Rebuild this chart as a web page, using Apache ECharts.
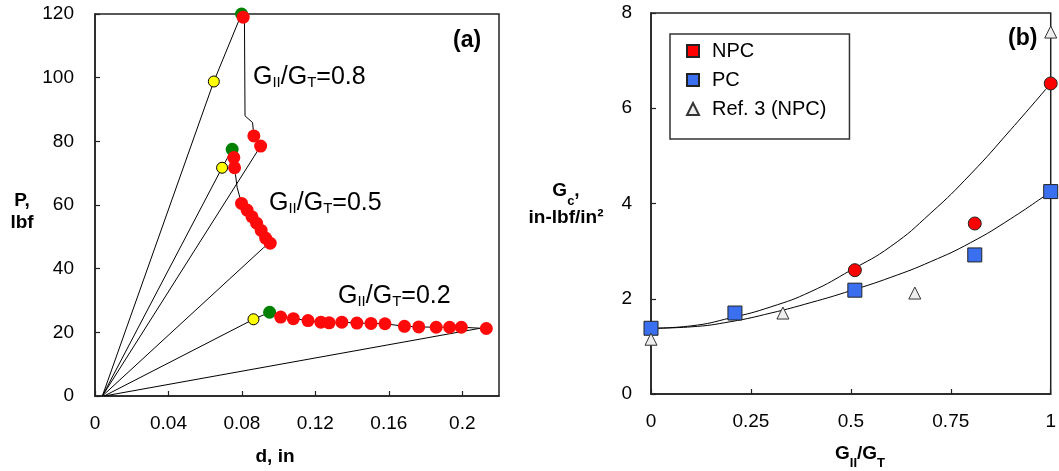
<!DOCTYPE html>
<html>
<head>
<meta charset="utf-8">
<title>Load-displacement and toughness</title>
<script src="https://cdn.jsdelivr.net/npm/echarts@6/dist/echarts.min.js"></script>
<style>
  html, body { margin: 0; padding: 0; background: #fff; }
  #chart { width: 1059px; height: 471px; }
</style>
</head>
<body>
<div id="chart"></div>
<script>
// ---- panel (a): load vs displacement, d (in) / P (lbf) ----
const dTicks = [0, 0.04, 0.08, 0.12, 0.16, 0.2];
const pTicks = [0, 20, 40, 60, 80, 100, 120];

// black traces (load, then unload back to the origin)
const trace08 = [[0.004, 0], [0.0647, 98.8], [0.0798, 120], [0.0807, 119], [0.0814, 117],
  [0.0817, 88], [0.0858, 85.9], [0.0865, 81.7], [0.0902, 78.5], [0.004, 0]];
const trace05 = [[0.004, 0], [0.0692, 71.7], [0.0747, 77.5], [0.0756, 74.9], [0.0760, 71.7],
  [0.0765, 69.6], [0.0774, 65.5], [0.0798, 60.5], [0.0828, 58.4], [0.0855, 56.3], [0.0880, 54.3],
  [0.0905, 52.0], [0.0929, 49.6], [0.0954, 48.0], [0.0918, 46.6], [0.004, 0]];
const trace02 = [[0.005, 0], [0.0863, 24.1], [0.0951, 26.3], [0.1011, 24.8], [0.1080, 24.3],
  [0.1160, 23.7], [0.1230, 23.2], [0.1275, 23.0], [0.1344, 23.2], [0.1426, 22.9], [0.1503, 22.8],
  [0.1579, 22.7], [0.1685, 21.9], [0.1763, 21.7], [0.1858, 21.6], [0.1931, 21.6], [0.1995, 21.6],
  [0.2131, 21.2], [0.209, 21.2], [0.005, 0]];

// markers
const yellowPts = [[0.0647, 98.8], [0.0692, 71.7], [0.0863, 24.1]];
const greenPts = [[0.0798, 120], [0.0747, 77.5], [0.0951, 26.3]];
const redPts = [
  [0.0807, 119], [0.0865, 81.7], [0.0902, 78.5],
  [0.0756, 74.9], [0.0760, 71.7], [0.0798, 60.5], [0.0828, 58.4], [0.0855, 56.3],
  [0.0880, 54.3], [0.0905, 52.0], [0.0929, 49.6], [0.0954, 48.0],
  [0.1011, 24.8], [0.1080, 24.3], [0.1160, 23.7], [0.1230, 23.2], [0.1275, 23.0],
  [0.1344, 23.2], [0.1426, 22.9], [0.1503, 22.8], [0.1579, 22.7], [0.1685, 21.9],
  [0.1763, 21.7], [0.1858, 21.6], [0.1931, 21.6], [0.1995, 21.6], [0.2131, 21.2]
];

// ---- panel (b): Gc vs GII/GT ----
const npc = [[0.51, 2.6], [0.81, 3.58], [1.0, 6.52]];
const pc = [[0, 1.38], [0.21, 1.7], [0.51, 2.18], [0.81, 2.92], [1.0, 4.25]];
const ref3 = [[0, 1.15], [0.33, 1.7], [0.66, 2.12], [1.0, 7.6]];
// fitted curves
const fitNpc = [[0, 1.38], [0.1, 1.43], [0.2, 1.6], [0.3, 1.83], [0.4, 2.15], [0.5, 2.6],
  [0.6, 3.1], [0.7, 3.8], [0.8, 4.62], [0.9, 5.55], [1, 6.52]];
const fitPc = [[0, 1.38], [0.1, 1.41], [0.2, 1.52], [0.3, 1.7], [0.4, 1.92], [0.5, 2.17],
  [0.6, 2.45], [0.7, 2.78], [0.8, 3.18], [0.9, 3.68], [1, 4.25]];

const FONT = '"Liberation Sans", Arial, sans-serif';
const SQUARE = 'path://M0,0L10,0L10,10L0,10Z';
const chart = echarts.init(document.getElementById('chart'));

function valueAxis(gridIndex, min, max, interval, extra) {
  return Object.assign({
    type: 'value', gridIndex, min, max, interval,
    axisLine: { lineStyle: { color: '#222', width: 1.5 } },
    axisTick: { inside: true, length: 5, lineStyle: { color: '#222', width: 1.2 } },
    splitLine: { show: false },
    axisLabel: { color: '#000', fontSize: 19, fontFamily: FONT }
  }, extra);
}

function ratioLabel(value) {
  return {
    type: 'text',
    style: {
      text: '{m|G}{s|II}{m|/G}{s|T}{m|=' + value + '}',
      fill: '#000',
      rich: {
        m: { fontSize: 25, fontFamily: FONT, verticalAlign: 'bottom', fill: '#000' },
        s: { fontSize: 15, fontFamily: FONT, verticalAlign: 'bottom', fill: '#000' }
      }
    }
  };
}

const lineBase = { type: 'line', showSymbol: false, silent: true, z: 2,
  lineStyle: { color: '#000', width: 1 } };

const option = {
  animation: false,
  textStyle: { fontFamily: FONT },
  grid: [
    { left: 95, top: 14, right: 560, bottom: 75, show: true, borderColor: '#222', borderWidth: 1.5 },
    { left: 651, top: 13, right: 5, bottom: 77, show: true, borderColor: '#222', borderWidth: 1.5 }
  ],
  xAxis: [
    valueAxis(0, dTicks[0], 0.22, 0.04, { axisLabel: { color: '#000', fontSize: 19, fontFamily: FONT, margin: 18, showMaxLabel: false } }),
    valueAxis(1, 0, 1, 0.25, { axisLabel: { color: '#000', fontSize: 19, fontFamily: FONT, margin: 18 } })
  ],
  yAxis: [
    valueAxis(0, pTicks[0], pTicks[pTicks.length - 1], 20, { axisLabel: { color: '#000', fontSize: 19, fontFamily: FONT, margin: 21 } }),
    valueAxis(1, 0, 8, 2, { axisLabel: { color: '#000', fontSize: 19, fontFamily: FONT, margin: 19 } })
  ],
  legend: {
    left: 670, top: 34, orient: 'vertical',
    padding: [7, 23, 20, 16], itemGap: 9, itemWidth: 12, itemHeight: 12,
    borderColor: '#333', borderWidth: 1.5,
    textStyle: { color: '#000', fontSize: 20, fontFamily: FONT, padding: [0, 0, 0, 8] },
    data: [
      { name: 'NPC', icon: SQUARE },
      { name: 'PC', icon: SQUARE },
      { name: 'Ref. 3 (NPC)', icon: 'triangle' }
    ]
  },
  graphic: [
    { type: 'text', left: 453, top: 29, style: { text: '(a)', fill: '#000', font: 'bold 23px ' + FONT } },
    { type: 'text', left: 1008, top: 27, style: { text: '(b)', fill: '#000', font: 'bold 23px ' + FONT } },
    Object.assign(ratioLabel('0.8'), { left: 253, top: 65 }),
    Object.assign(ratioLabel('0.5'), { left: 269, top: 191 }),
    Object.assign(ratioLabel('0.2'), { left: 338, top: 284 }),
    { type: 'text', x: 22, y: 212, style: { text: 'P,\nlbf', fill: '#000', font: 'bold 19px ' + FONT,
      align: 'center', verticalAlign: 'middle', lineHeight: 22 } },
    { type: 'text', x: 275, y: 457, style: { text: 'd, in', fill: '#000', font: 'bold 19px ' + FONT,
      align: 'center', verticalAlign: 'middle' } },
    { type: 'text', x: 566, y: 208, style: {
      text: '{m|G}{s|c}{m|,}\n{m|in-lbf/in²}', fill: '#000', align: 'center', verticalAlign: 'middle',
      rich: {
        m: { font: 'bold 19px ' + FONT, fill: '#000', verticalAlign: 'top', lineHeight: 27 },
        s: { font: 'bold 13px ' + FONT, fill: '#000', verticalAlign: 'bottom', lineHeight: 14 }
      } } },
    { type: 'text', x: 860, y: 457, style: {
      text: '{m|G}{s|II}{m|/G}{s|T}', fill: '#000', align: 'center', verticalAlign: 'middle',
      rich: {
        m: { font: 'bold 19px ' + FONT, fill: '#000', verticalAlign: 'top', lineHeight: 25 },
        s: { font: 'bold 13px ' + FONT, fill: '#000', verticalAlign: 'bottom', lineHeight: 14 }
      } } }
  ],
  series: [
    Object.assign({ name: 'trace08', xAxisIndex: 0, yAxisIndex: 0, data: trace08 }, lineBase),
    Object.assign({ name: 'trace05', xAxisIndex: 0, yAxisIndex: 0, data: trace05 }, lineBase),
    Object.assign({ name: 'trace02', xAxisIndex: 0, yAxisIndex: 0, data: trace02 }, lineBase),
    { name: 'green', type: 'scatter', xAxisIndex: 0, yAxisIndex: 0, data: greenPts, symbolSize: 13,
      itemStyle: { color: '#008000', opacity: 1 }, z: 3 },
    { name: 'red', type: 'scatter', xAxisIndex: 0, yAxisIndex: 0, data: redPts, symbolSize: 13,
      itemStyle: { color: '#ff0a0a', opacity: 1 }, z: 4 },
    { name: 'yellow', type: 'scatter', xAxisIndex: 0, yAxisIndex: 0, data: yellowPts, symbolSize: 11,
      itemStyle: { color: '#ffff00', borderColor: '#000', borderWidth: 1, opacity: 1 }, z: 5 },

    Object.assign({ name: 'fitNpc', xAxisIndex: 1, yAxisIndex: 1, data: fitNpc, smooth: true }, lineBase),
    Object.assign({ name: 'fitPc', xAxisIndex: 1, yAxisIndex: 1, data: fitPc, smooth: true }, lineBase),
    { name: 'NPC', type: 'scatter', xAxisIndex: 1, yAxisIndex: 1, data: npc, symbol: 'circle', symbolSize: 13,
      legendIcon: SQUARE,
      itemStyle: { color: '#ff0000', borderColor: '#222', borderWidth: 1, opacity: 1 }, z: 4 },
    { name: 'PC', type: 'scatter', xAxisIndex: 1, yAxisIndex: 1, data: pc, symbol: 'rect', symbolSize: 14,
      legendIcon: SQUARE,
      itemStyle: { color: '#3a6ff0', borderColor: '#222', borderWidth: 1, opacity: 1 }, z: 4 },
    { name: 'Ref. 3 (NPC)', type: 'scatter', xAxisIndex: 1, yAxisIndex: 1, data: ref3, symbol: 'triangle', symbolSize: 12,
      legendIcon: 'triangle',
      itemStyle: { color: '#eeeeee', borderColor: '#333', borderWidth: 1, opacity: 1 }, z: 5 }
  ]
};

chart.setOption(option);
window.addEventListener('resize', () => chart.resize());
</script>
</body>
</html>
